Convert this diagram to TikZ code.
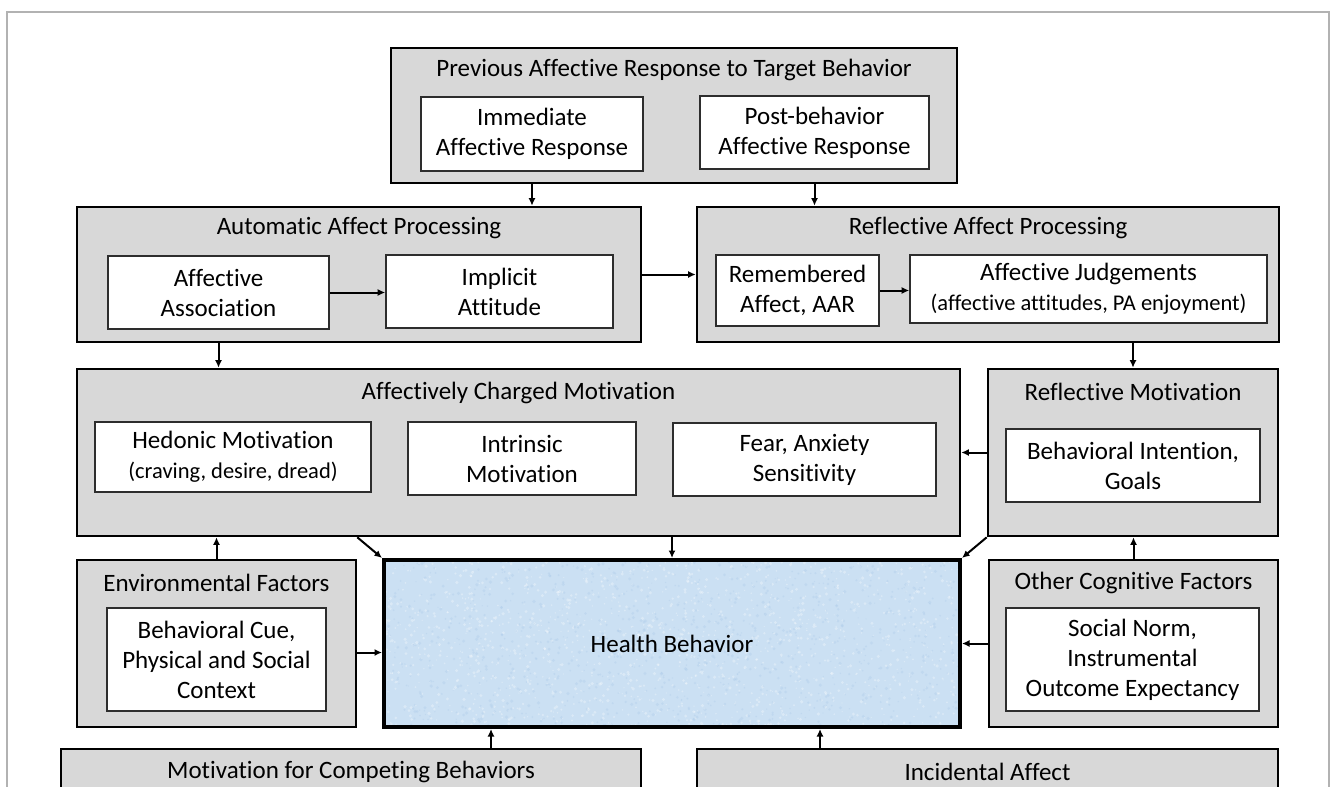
\documentclass[tikz,border=0pt]{standalone}
\usepackage{fontspec}
\setmainfont{Carlito}[Ligatures=NoCommon]
\usetikzlibrary{arrows.meta,backgrounds,calc}
\definecolor{boxgray}{RGB}{216,216,216}
\definecolor{innerline}{RGB}{45,45,45}
\definecolor{hbblue}{RGB}{203,224,243}
\definecolor{hbdark}{RGB}{172,203,234}
\definecolor{framegray}{RGB}{178,178,178}
\newcommand{\mainsz}{\fontsize{25}{30}\selectfont}
\newcommand{\smallsz}{\fontsize{22.5}{28}\selectfont}
\begin{document}
\begin{tikzpicture}[x=1pt,y=-1pt,
  outerbox/.style={rectangle, draw=black, line width=2.6pt, fill=boxgray, inner sep=0pt},
  innerbox/.style={rectangle, draw=innerline, line width=1.6pt, fill=white, inner sep=0pt, align=center, font=\mainsz},
  titletext/.style={inner sep=0pt, font=\mainsz},
  arr/.style={line width=2pt, -{Latex[length=7.5pt,width=7pt]}}]
\useasboundingbox (0,0) rectangle (1331,787);
\clip (0,0) rectangle (1331,787);

% frame
\draw[framegray, line width=1.5pt] (7,800) -- (7,12) -- (1329,12) -- (1329,800);

% top box
\node[outerbox, minimum width=566pt, minimum height=135pt] (prev) at (674,115.5) {};
\node[titletext] (prevT) at (674,70) {Previous Affective Response to Target Behavior};
\node[innerbox, minimum width=222pt, minimum height=74pt] (immed) at (532,134) {Immediate\\Affective Response};
\node[innerbox, minimum width=229pt, minimum height=73pt] (post) at (814.5,132.5) {Post-behavior\\Affective Response};

% automatic
\node[outerbox, minimum width=564pt, minimum height=135pt] (auto) at (359,274.5) {};
\node[titletext] (autoT) at (359,228) {Automatic Affect Processing};
\node[innerbox, minimum width=221pt, minimum height=73pt] (assoc) at (218.5,292.5) {Affective\\Association};
\node[innerbox, minimum width=227pt, minimum height=73pt] (implicit) at (499.5,291.5) {Implicit\\Attitude};

% reflective
\node[outerbox, minimum width=582pt, minimum height=135pt] (refl) at (988,274.5) {};
\node[titletext] (reflT) at (988,228) {Reflective Affect Processing};
\node[innerbox, minimum width=163pt, minimum height=71pt] (remem) at (797.5,290.5) {Remembered\\Affect, AAR};
\node[innerbox, minimum width=357pt, minimum height=68pt] (judg) at (1088.5,289) {Affective Judgements\\{\smallsz (affective attitudes, PA enjoyment)}};

% affectively charged motivation
\node[outerbox, minimum width=883pt, minimum height=167pt] (acm) at (518.5,452.5) {};
\node[titletext] (acmT) at (518.5,393) {Affectively Charged Motivation};
\node[innerbox, minimum width=276pt, minimum height=70pt] (hedonic) at (233,457) {Hedonic Motivation\\{\smallsz (craving, desire, dread)}};
\node[innerbox, minimum width=228pt, minimum height=73pt] (intrinsic) at (522,458.5) {Intrinsic\\Motivation};
\node[innerbox, minimum width=263pt, minimum height=73pt] (fear) at (804.5,459.5) {Fear, Anxiety\\Sensitivity};

% reflective motivation
\node[outerbox, minimum width=290pt, minimum height=167pt] (refmot) at (1133,452.5) {};
\node[titletext] (refmotT) at (1133,392) {Reflective Motivation};
\node[innerbox, minimum width=254pt, minimum height=73pt] (intent) at (1133,465.5) {Behavioral Intention,\\Goals};

% environmental
\node[outerbox, minimum width=279pt, minimum height=167pt] (env) at (216.5,643.5) {};
\node[titletext] (envT) at (216.5,583) {Environmental Factors};
\node[innerbox, minimum width=219pt, minimum height=103pt] (cue) at (216.5,659.5) {Behavioral Cue,\\Physical and Social\\Context};

% health behavior
\node[rectangle, draw=black, line width=4pt, minimum width=576pt, minimum height=167pt, inner sep=0pt, font=\mainsz] (health) at (672,643.5) {Health Behavior};
\begin{scope}[on background layer]
  \fill[white] (0,0) rectangle (1331,787);
  \fill[hbblue] (health.north west) rectangle (health.south east);
  \clip (health.north west) rectangle (health.south east);
  \pgfmathsetseed{7}
  \foreach \i in {1,...,1400}{
    \pgfmathsetmacro{\px}{384+576*rnd}
    \pgfmathsetmacro{\py}{560+167*rnd}
    \pgfmathsetmacro{\pr}{0.6+1.2*rnd}
    \fill[white, opacity=0.3] (\px,\py) circle (\pr);
  }
  \foreach \i in {1,...,1000}{
    \pgfmathsetmacro{\px}{384+576*rnd}
    \pgfmathsetmacro{\py}{560+167*rnd}
    \pgfmathsetmacro{\pr}{0.6+1.2*rnd}
    \fill[hbdark, opacity=0.35] (\px,\py) circle (\pr);
  }
\end{scope}

% other cognitive
\node[outerbox, minimum width=289pt, minimum height=167pt] (other) at (1133.5,643.5) {};
\node[titletext] (otherT) at (1133.5,583) {Other Cognitive Factors};
\node[innerbox, minimum width=253pt, minimum height=103pt] (norm) at (1132.5,659.5) {Social Norm,\\Instrumental\\Outcome Expectancy};

% bottom boxes (cut by the picture edge)
\node[outerbox, minimum width=580pt, minimum height=81pt] (comp) at (351,789.5) {};
\node[titletext] (compT) at (351,772) {Motivation for Competing Behaviors};
\node[outerbox, minimum width=581pt, minimum height=81pt] (incid) at (987.5,789.5) {};
\node[titletext] (incidT) at (987.5,772) {Incidental Affect};

% connectors
\draw[arr] (prev.south -| immed) -- (auto.north -| immed);
\draw[arr] (prev.south -| post) -- (refl.north -| post);
\draw[arr] (auto.east) -- (refl.west);
\draw[arr] (assoc.east) -- (assoc.east -| implicit.west);
\draw[arr] (remem.east) -- (remem.east -| judg.west);
\draw[arr] (auto.south -| assoc) -- (acm.north -| assoc);
\draw[arr] (refl.south -| refmot) -- (refmot.north);
\draw[arr] (refmot.west) -- (refmot.west -| acm.east);
\draw[arr] (acm.south -| health) -- (health.north);
\draw[arr] (acm.south -| env.east) -- (health.north west);
\draw[arr] (refmot.south west) -- (health.north east);
\draw[arr] (env.north) -- (env.north |- acm.south);
\draw[arr] ([yshift=-9pt]env.east) -- ([yshift=-9pt]env.east -| health.west);
\draw[arr] (other.west) -- (other.west -| health.east);
\draw[arr] (other.north) -- (other.north |- refmot.south);
\coordinate (hbL) at ([xshift=109pt]health.south west);
\coordinate (hbR) at ([xshift=-142pt]health.south east);
\draw[arr] (comp.north -| hbL) -- (hbL);
\draw[arr] (incid.north -| hbR) -- (hbR);
\end{tikzpicture}
\end{document}
